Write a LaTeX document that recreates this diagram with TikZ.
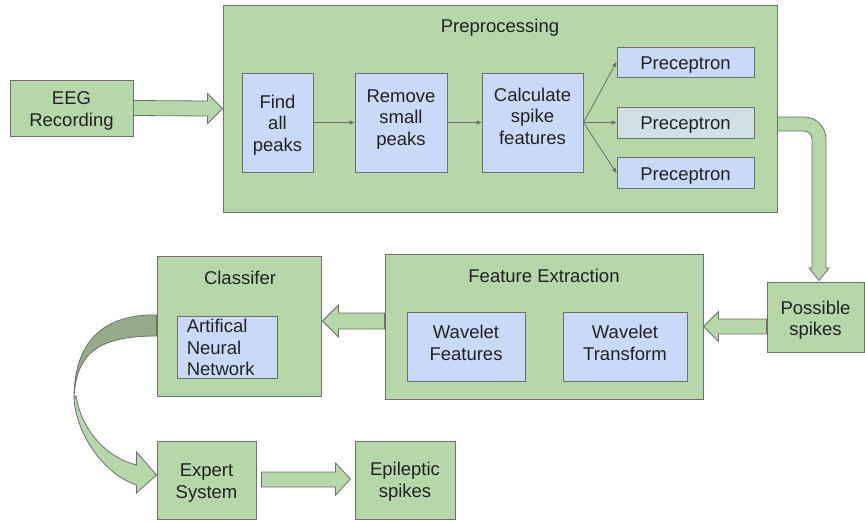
\documentclass[tikz,border=0pt]{standalone}
\usepackage{fontspec}
\setmainfont{Liberation Sans}
\usetikzlibrary{arrows.meta,calc}
\definecolor{boxgreen}{HTML}{B6D7A8}
\definecolor{boxblue}{HTML}{C9DAF8}
\definecolor{boxteal}{HTML}{D0E0E3}
\definecolor{edgegrey}{HTML}{6F6F6F}
\definecolor{ribbondark}{HTML}{93AB88}
\definecolor{inktext}{HTML}{222222}

\begin{document}
\begin{tikzpicture}[x=1pt,y=-1pt,
  every node/.style={font=\fontsize{18.5}{21.5}\selectfont, text=inktext, align=center},
  greenbox/.style={draw=edgegrey, fill=boxgreen, line width=0.9pt, inner sep=0pt},
  bluebox/.style={draw=edgegrey, fill=boxblue, line width=0.9pt, inner sep=0pt},
  thinarrow/.style={draw=edgegrey, line width=0.8pt, -{Triangle[length=5pt,width=4pt]}},
  blockarrow/.style={draw=edgegrey, fill=boxgreen, line width=0.8pt, line join=miter}]
\useasboundingbox (0,0) rectangle (865,522);

% ---------- containers ----------
\node[greenbox, minimum width=554pt, minimum height=207pt] (pre) at (500,108.5) {};
\node (pre-t) at (500,28) {Preprocessing};
\node[greenbox, minimum width=318pt, minimum height=145pt] (feat) at (544,326.5) {};
\node (feat-t) at (544,276) {Feature Extraction};
\node[greenbox, minimum width=164pt, minimum height=140pt] (class) at (239,326) {};
\node (class-t) at (240,278) {Classifer};

% ---------- stand-alone green boxes ----------
\node[greenbox, minimum width=123pt, minimum height=56pt] (eeg) at (71.5,108) {};
\node (eeg-t) at ($(eeg)+(0,3)$) {EEG\\Recording};
\node[greenbox, minimum width=97pt, minimum height=70pt] (possible) at (815.5,317) {};
\node (possible-t) at ($(possible)+(0,3)$) {Possible\\spikes};
\node[greenbox, minimum width=99pt, minimum height=78pt] (expert) at (206.5,480) {};
\node (expert-t) at ($(expert)+(0,3)$) {Expert\\System};
\node[greenbox, minimum width=100pt, minimum height=78pt] (epi) at (405,480) {};
\node (epi-t) at ($(epi)+(0,1.5)$) {Epileptic\\spikes};

% ---------- preprocessing steps ----------
\node[bluebox, minimum width=71pt, minimum height=99pt] (find) at (277.5,122.5) {};
\node (find-t) at ($(find)+(0,2.5)$) {Find\\all\\peaks};
\node[bluebox, minimum width=92pt, minimum height=99pt] (remove) at (401,122.5) {};
\node (remove-t) at ($(remove)+(0,-3)$) {Remove\\small\\peaks};
\node[bluebox, minimum width=101pt, minimum height=99pt] (calc) at (532.5,122.5) {};
\node (calc-t) at ($(calc)+(0,-6.5)$) {Calculate\\spike\\features};
\node[bluebox, minimum width=137pt, minimum height=30pt] (p1) at (685.5,62) {};
\node (p1-t) at ($(p1)+(0,3)$) {Preceptron};
\node[bluebox, fill=boxteal, minimum width=137pt, minimum height=31pt] (p2) at (685.5,122.5) {};
\node (p2-t) at ($(p2)+(0,3)$) {Preceptron};
\node[bluebox, minimum width=137pt, minimum height=31pt] (p3) at (685.5,173) {};
\node (p3-t) at ($(p3)+(0,3)$) {Preceptron};

\draw[thinarrow] (find) -- (remove);
\draw[thinarrow] (remove) -- (calc);
\draw[thinarrow] (calc.east) -- (p1.west);
\draw[thinarrow] (calc.east) -- (p2.west);
\draw[thinarrow] (calc.east) -- (p3.west);

% ---------- feature extraction / classifier contents ----------
\node[bluebox, minimum width=118pt, minimum height=69pt] (wf) at (466,346.5) {};
\node (wf-t) at ($(wf)+(0,-3.5)$) {Wavelet\\Features};
\node[bluebox, minimum width=124pt, minimum height=69pt] (wt) at (625,346.5) {};
\node (wt-t) at ($(wt)+(0,-3.5)$) {Wavelet\\Transform};
\node[bluebox, minimum width=100pt, minimum height=62pt] (ann) at (227,347) {};
\node[anchor=west, align=left, inner xsep=0pt] (ann-t) at ($(ann.west)+(10,0.5)$) {Artifical\\Neural\\Network};

% ---------- block arrows ----------
% EEG recording -> preprocessing
\draw[blockarrow] ($(eeg.east)+(0,-7.5)$) -- ($(pre.west)+(-15,-7.5)$) -- ($(pre.west)+(-15,-15)$)
  -- (pre.west) -- ($(pre.west)+(-15,15)$) -- ($(pre.west)+(-15,7.5)$) -- ($(eeg.east)+(0,7.5)$) -- cycle;

% preprocessing -> possible spikes (bent)
\coordinate (bendtip) at ($(possible.north)+(3.5,-1)$);
\draw[blockarrow] ($(pre.east)+(0,8.5)$) -- (804,117) .. controls (816.15,117) and (826,126.85) .. (826,139)
  -- (826,268) -- (829,268) -- (bendtip) -- (809,268) -- (812,268) -- (812,139)
  .. controls (812,134.58) and (808.42,131) .. (804,131) -- ($(pre.east)+(0,22.5)$) -- cycle;

% possible spikes -> feature extraction
\draw[blockarrow] ($(possible.west|-feat.east)+(0,-7.5)$) -- ($(feat.east)+(15,-7.5)$) -- ($(feat.east)+(15,-15)$)
  -- (feat.east) -- ($(feat.east)+(15,15)$) -- ($(feat.east)+(15,7.5)$) -- ($(possible.west|-feat.east)+(0,7.5)$) -- cycle;

% feature extraction -> classifier
\coordinate (fctip) at ($(class.east)+(1,-5)$);
\draw[blockarrow] ($(feat.west|-fctip)+(0,-8)$) -- ($(fctip)+(16,-8)$) -- ($(fctip)+(16,-16)$)
  -- (fctip) -- ($(fctip)+(16,16)$) -- ($(fctip)+(16,8)$) -- ($(feat.west|-fctip)+(0,8)$) -- cycle;

% expert system -> epileptic spikes
\coordinate (eetip) at ($(epi.west)+(-4,-1)$);
\draw[blockarrow] ($(expert.east)+(5,-8)$) -- ($(eetip)+(-15,-7)$) -- ($(eetip)+(-15,-16)$)
  -- (eetip) -- ($(eetip)+(-15,16)$) -- ($(eetip)+(-15,8)$) -- ($(expert.east)+(5,7)$) -- cycle;

% classifier -> expert system (curved ribbon)
\coordinate (ctip) at ($(expert.west)+(0,-5)$);
\draw[blockarrow, fill=ribbondark] ($(class.west)+(0,-11)$) .. controls (105,314) and (74,340) .. (74,398)
  .. controls (76,352) and (100,336) .. ($(class.west)+(0,10)$) -- cycle;
\draw[blockarrow] (74,398) .. controls (76,435) and (105,475) .. ($(ctip)+(-20,10)$)
  -- ($(ctip)+(-20,18)$) -- (ctip) -- ($(ctip)+(-20,-23)$) -- ($(ctip)+(-20,-10)$)
  .. controls (108,458) and (82,432) .. (76,396) -- cycle;
\end{tikzpicture}
\end{document}
